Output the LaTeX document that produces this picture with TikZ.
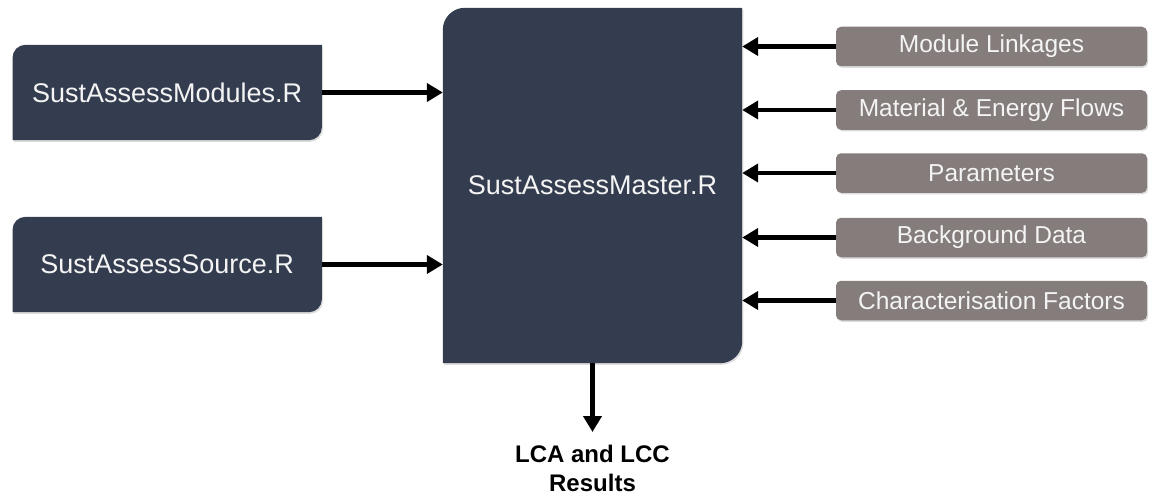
\documentclass[tikz,border=0pt]{standalone}
\usepackage{fontspec}
\setmainfont{Liberation Sans}
\usetikzlibrary{arrows.meta,backgrounds,shadows}

\definecolor{slate}{HTML}{343D4F}
\definecolor{stone}{HTML}{847D7B}
\definecolor{paper}{HTML}{F4F4F4}

\tikzset{
  softshadow/.style={drop shadow={shadow xshift=1.2pt,shadow yshift=-1.6pt,opacity=0.28}},
  darkbox/.style={inner sep=0pt, text=paper, font=\fontsize{27}{32}\selectfont},
  greybox/.style={fill=stone, rounded corners=5pt, text=paper, inner sep=0pt,
    minimum width=311pt, minimum height=39.5pt,
    font=\fontsize{24.5}{29}\selectfont, softshadow},
  link/.style={line width=4.6pt, -{Triangle[length=16pt,width=18pt]}},
  outcome/.style={inner sep=0pt, align=center, anchor=north,
    font=\bfseries\fontsize{24}{29.5}\selectfont}
}

% filled box behind a node, rounded at the top-left and bottom-right corners only
\newcommand\diagcornerbox[2]{%
  \fill[slate,softshadow]
    ([yshift=-#2]#1.north west) arc[start angle=180,end angle=90,radius=#2]
    -- (#1.north east)
    -- ([yshift=#2]#1.south east) arc[start angle=0,end angle=-90,radius=#2]
    -- (#1.south west) -- cycle;}

\begin{document}
\begin{tikzpicture}[x=1pt,y=1pt]
  \useasboundingbox (0,0) rectangle (1152,-495);

  % script files
  \node[darkbox, minimum width=309pt, minimum height=95pt] (modules) at (167.2,-92.5) {SustAssessModules.R};
  \node[darkbox, minimum width=309pt, minimum height=95pt] (source) at (167.2,-264.5) {SustAssessSource.R};
  \node[darkbox, minimum width=299pt, minimum height=355pt] (master) at (592.5,-185.5) {SustAssessMaster.R};

  \begin{scope}[on background layer]
    \diagcornerbox{modules}{13pt}
    \diagcornerbox{source}{13pt}
    \diagcornerbox{master}{22pt}
  \end{scope}

  % input data tables
  \node[greybox] (linkages)   at (991.5,-46.5)  {Module Linkages};
  \node[greybox] (flows)      at (991.5,-110)   {Material \& Energy Flows};
  \node[greybox] (parameters) at (991.5,-173)   {Parameters};
  \node[greybox] (background) at (991.5,-237.5) {Background Data};
  \node[greybox] (factors)    at (991.5,-300.5) {Characterisation Factors};

  % connectors into the master script
  \draw[link] (modules.east) -- (modules.east -| master.west);
  \draw[link] (source.east) -- (source.east -| master.west);
  \foreach \n in {linkages,flows,parameters,background,factors}
    \draw[link] (\n.west) -- (\n.west -| master.east);

  % output
  \coordinate (outtip) at (592.5,-432);
  \draw[link] (master.south) -- (outtip);
  \node[outcome] (results) at (592.5,-444.5) {LCA and LCC\\Results};
\end{tikzpicture}
\end{document}
